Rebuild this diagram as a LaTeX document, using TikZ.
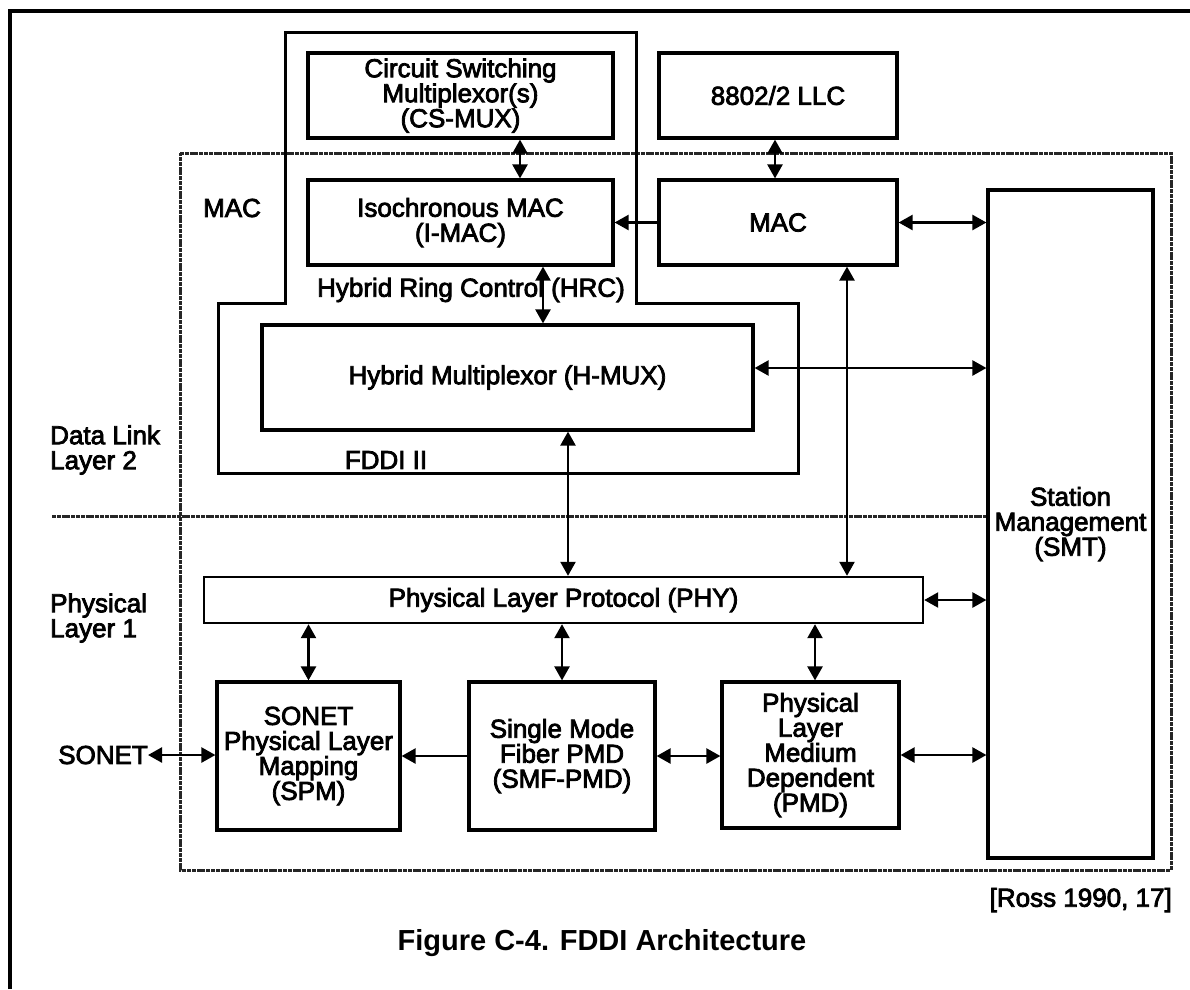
\documentclass[tikz,border=0pt]{standalone}
\usepackage{fontspec}
\setmainfont{Liberation Sans}
\newfontfamily\heavyfont{Liberation Sans}[FakeBold=3]
\usetikzlibrary{arrows.meta}
\newcommand\diagfont{\heavyfont\fontsize{26}{25}\selectfont}
\newcommand\titlefont{\fontsize{29}{30}\selectfont\bfseries}
\begin{document}
\begin{tikzpicture}[x=1pt,y=-1pt,
  box/.style={draw,line width=3.2pt,inner sep=0pt,align=center,font=\diagfont},
  lbl/.style={inner sep=0pt,align=center,font=\diagfont},
  tip/.tip={Triangle[length=14pt,width=15pt]},
  dbl/.style={line width=2.4pt,tip-tip},
  sgl/.style={line width=2.4pt,-tip},
  frame/.style={line width=3.8pt},
  region/.style={line width=3pt},
  grainy/.style={draw=black!85,line width=3pt,dash pattern=on 4pt off 0.8pt}]
\useasboundingbox (0,0) rectangle (1190,989);
% outer frame (left and top)
\draw[frame] (10,989) -- (10,11) -- (1190,11);
% dotted MAC / layer region
\draw[grainy] (180,153) -- (1171,153) -- (1171,870) -- (180,870) -- cycle;
% HRC / FDDI II region
\draw[region] (285,32) -- (636,32) -- (636,303) -- (798,303) -- (798,473)
  -- (218,473) -- (218,303) -- (285,303) -- cycle;
% boxes
\node[box,minimum width=305pt,minimum height=85pt] (csmux) at (460.5,95.5)
  {Circuit Switching\\Multiplexor(s)\\(CS-MUX)};
\node[box,minimum width=238pt,minimum height=85pt] (llc) at (778,95.5) {8802/2 LLC};
\node[box,minimum width=305pt,minimum height=85pt] (imac) at (460.5,222.5)
  {Isochronous MAC\\(I-MAC)};
\node[box,minimum width=238pt,minimum height=85pt] (mac) at (778,222.5) {MAC};
\node[box,minimum width=491pt,minimum height=105pt] (hmux) at (507.5,377.5)
  {Hybrid Multiplexor (H-MUX)};
\node[box,line width=2.4pt,minimum width=719pt,minimum height=46pt] (phy) at (563.5,600)
  {Physical Layer Protocol (PHY)};
\node[box,minimum width=165pt,minimum height=668pt] (smt) at (1070.5,524)
  {Station\\Management\\(SMT)};
\node[box,minimum width=183pt,minimum height=148pt] (spm) at (308.5,756)
  {SONET\\Physical Layer\\Mapping\\(SPM)};
\node[box,minimum width=186pt,minimum height=148pt] (smf) at (562,756)
  {Single Mode\\Fiber PMD\\(SMF-PMD)};
\node[box,minimum width=177pt,minimum height=146pt] (pmd) at (810.5,755)
  {Physical\\Layer\\Medium\\Dependent\\(PMD)};
% labels
\node[lbl] (maclbl) at (232,208) {MAC};
\node[lbl] (hrclbl) at (471,290) {Hybrid Ring Control (HRC)};
\node[lbl] (fddilbl) at (386,460) {FDDI II};
\node[lbl,anchor=west,align=left] (dll) at (50,450) {Data Link\\Layer 2};
\node[lbl,anchor=west,align=left] (pl) at (50,618) {Physical\\Layer 1};
\node[lbl,anchor=east] (sonet) at (148,755) {SONET};
\node[lbl,anchor=east] (ross) at (1172,900) {[Ross 1990, 17]};
\node[inner sep=0pt,font=\titlefont] (title) at (602,943) {Figure C-4. FDDI Architecture};
% layer divider
\coordinate (divl) at (52,516);
\draw[grainy] (divl) -- (smt.west |- divl);
% x positions of vertical connectors
\coordinate (xa) at (520,0);
\coordinate (xb) at (775,0);
\coordinate (xc) at (543,0);
\coordinate (xd) at (847,0);
\coordinate (xe) at (568,0);
\coordinate (xf) at (815,0);
\coordinate (yh) at (0,368);
% vertical connectors
\draw[dbl] (csmux.south -| xa) -- (imac.north -| xa);
\draw[dbl] (llc.south -| xb) -- (mac.north -| xb);
\draw[dbl] (imac.south -| xc) -- (hmux.north -| xc);
\draw[dbl] (mac.south -| xd) -- (phy.north -| xd);
\draw[dbl] (hmux.south -| xe) -- (phy.north -| xe);
\draw[dbl] (phy.south -| spm.north) -- (spm.north);
\draw[dbl] (phy.south -| smf.north) -- (smf.north);
\draw[dbl] (phy.south -| xf) -- (pmd.north -| xf);
% horizontal connectors
\draw[sgl] (mac.west) -- (imac.east);
\draw[dbl] (mac.east) -- (smt.west |- mac.east);
\draw[dbl] (hmux.east |- yh) -- (smt.west |- yh);
\draw[dbl] (phy.east) -- (smt.west |- phy.east);
\draw[sgl] (smf.west) -- (spm.east);
\draw[dbl] (smf.east) -- (pmd.west |- smf.east);
\draw[dbl] (pmd.east) -- (smt.west |- pmd.east);
\draw[dbl] (sonet.east) -- (spm.west |- sonet.east);
\end{tikzpicture}
\end{document}
